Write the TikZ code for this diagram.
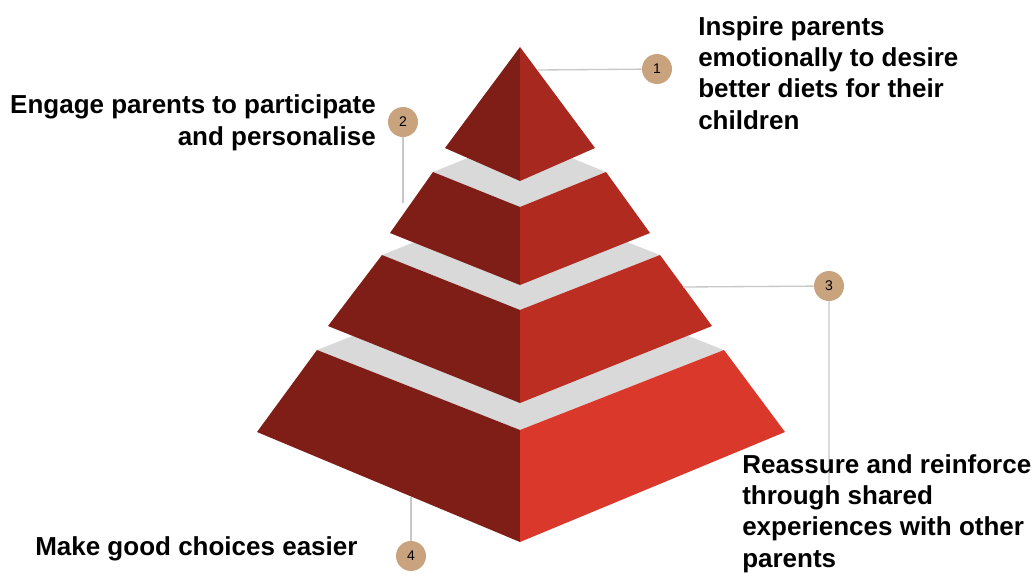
\documentclass[tikz,border=0pt]{standalone}
\usepackage{fontspec}
\setmainfont{Liberation Sans}
\usetikzlibrary{positioning}
\definecolor{faceleft}{RGB}{127,30,23}
\definecolor{faceone}{RGB}{166,40,31}
\definecolor{facetwo}{RGB}{176,42,32}
\definecolor{facethree}{RGB}{188,45,34}
\definecolor{facefour}{RGB}{217,56,42}
\definecolor{topgray}{RGB}{217,217,217}
\definecolor{badgetan}{RGB}{201,162,126}
\definecolor{leadergray}{RGB}{200,200,200}

\begin{document}
\begin{tikzpicture}[x=0.75pt, y=-0.75pt,
    badge/.style={circle, fill=badgetan, minimum size=22.5pt, inner sep=0pt, font=\fontsize{10.5}{12}\selectfont},
    caption/.style={font=\bfseries\fontsize{19.5}{23.3}\selectfont, inner sep=0pt},
    leader/.style={draw=leadergray, line width=1pt}]
        \useasboundingbox (0,0) rectangle (1032,575);
        % bottom layer
        \fill[topgray] (317,350) -- (520,270) -- (724,350) -- (520,430) -- cycle;
        \fill[faceleft] (317,350) -- (520,430) -- (520,542) -- (257,432) -- cycle;
        \fill[facefour] (520,430) -- (724,350) -- (785,432) -- (520,542) -- cycle;
        % third layer
        \fill[topgray] (382,255) -- (520,200) -- (660,255) -- (520,310) -- cycle;
        \fill[faceleft] (382,255) -- (520,310) -- (520,403) -- (328,326) -- cycle;
        \fill[facethree] (520,310) -- (660,255) -- (712,326) -- (520,403) -- cycle;
        % second layer
        \fill[topgray] (433,172) -- (520,137) -- (606,172) -- (520,207) -- cycle;
        \fill[faceleft] (433,172) -- (520,207) -- (520,285) -- (390,233) -- cycle;
        \fill[facetwo] (520,207) -- (606,172) -- (650,233) -- (520,285) -- cycle;
        % top
        \fill[faceleft] (520,47) -- (520,181) -- (445,148) -- cycle;
        \fill[faceone] (520,47) -- (595,148) -- (520,181) -- cycle;

        % badges
        \node[badge] (n1) at (657,69) {1};
        \node[badge] (n2) at (403,122) {2};
        \node[badge] (n3) at (829,286) {3};
        \node[badge] (n4) at (411,556) {4};

        \coordinate (e1) at (538,70);
        \coordinate (e2) at (403,203);
        \coordinate (e3) at (683,287);
        \coordinate (f3) at (829,490);
        \coordinate (e4) at (411,497);
        \draw[leader] (e1) -- (n1);
        \draw[leader] (n2) -- (e2);
        \draw[leader] (e3) -- (n3) -- (f3);
        \draw[leader] (n4) -- (e4);

        % captions (base = last line)
        \node[caption, anchor=base west, align=left] (t1) at (698,129)
            {Inspire parents\\emotionally to desire\\better diets for their\\children};
        \node[caption, anchor=base east, align=right] (t2) at (376,145)
            {Engage parents to participate\\and personalise};
        \node[caption, anchor=base west, align=left] (t3) at (742,567)
            {Reassure and reinforce\\through shared\\experiences with other\\parents};
        \node[caption, anchor=base west] (t4) at (35,555) {Make good choices easier};
    \end{tikzpicture}
\end{document}
